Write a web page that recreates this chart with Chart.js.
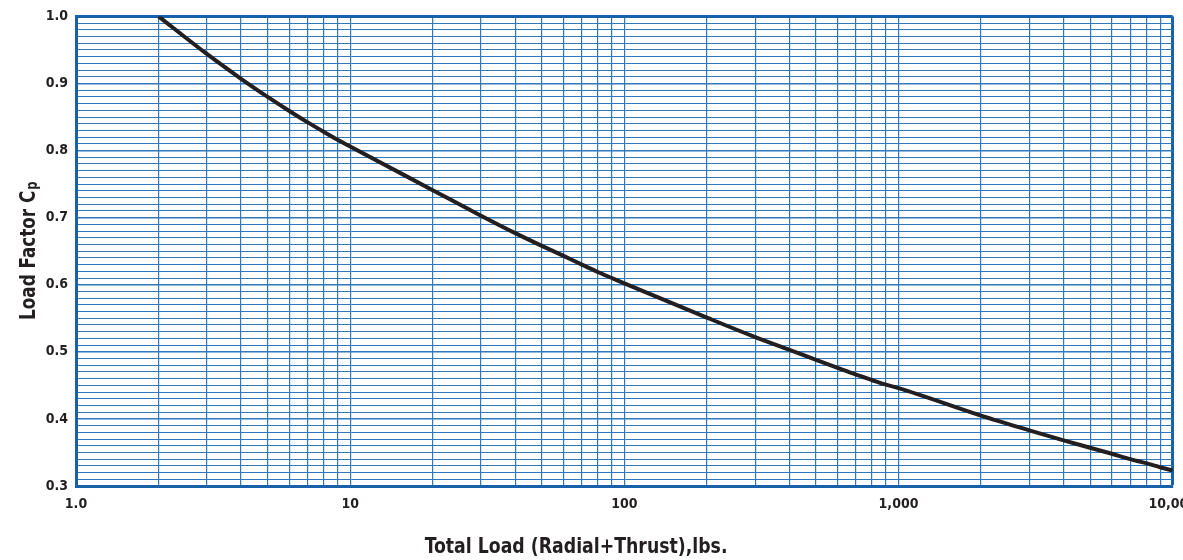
<!DOCTYPE html>
<html>
<head>
<meta charset="utf-8">
<title>Load Factor Cp</title>
<script src="https://cdn.jsdelivr.net/npm/chart.js@4.4.1/dist/chart.umd.min.js"></script>
<style>
  html, body { margin: 0; padding: 0; background: #fff; overflow: hidden; }
  #wrap { width: 1183px; height: 560px; overflow: hidden; }
</style>
</head>
<body>
<div id="wrap"><canvas id="cp-canvas" width="1207" height="560"></canvas></div>
<script>
// Carga total (lbs) y factor de carga Cp
const totalLoad = [2, 3, 4, 5, 6, 7, 8, 9, 10,
    20, 30, 40, 50, 60, 70, 80, 90, 100,
    200, 300, 400, 500, 600, 700, 800, 900, 1000,
    2000, 3000, 4000, 5000, 6000, 7000, 8000, 9000, 10000];
const loadFactor = [1.000, 0.944, 0.907, 0.880, 0.859, 0.842, 0.828, 0.816, 0.806,
    0.741, 0.703, 0.677, 0.658, 0.643, 0.630, 0.619, 0.610, 0.602,
    0.551, 0.522, 0.503, 0.488, 0.476, 0.466, 0.458, 0.451, 0.446,
    0.405, 0.383, 0.368, 0.357, 0.348, 0.340, 0.334, 0.328, 0.323];

// Etiquetas de los ejes
const xLabelValues = [1, 10, 100, 1000, 10000];
const xLabelText = ['1.0', '10', '100', '1,000', '10,000'];
const yLabelValues = [0.3, 0.4, 0.5, 0.6, 0.7, 0.8, 0.9, 1.0];
const yLabelText = ['0.3', '0.4', '0.5', '0.6', '0.7', '0.8', '0.9', '1.0'];

// Líneas de la cuadrícula: 1..9 en cada década y centésimas en el eje Y
const decades = [1, 10, 100, 1000];
const xGridValues = [];
decades.forEach(d => { for (let k = 1; k <= 9; k++) xGridValues.push(k * d); });
xGridValues.push(10000);
const yGridValues = [];
for (let k = 30; k <= 100; k++) yGridValues.push(k / 100);

const xTitle = 'Total Load (Radial+Thrust),lbs.';
const yTitle = 'Load Factor C';
const yTitleSub = 'p';

const fontFamily = "'DejaVu Sans Condensed', 'Liberation Sans Narrow', sans-serif";
const textColor = '#231f20';
const gridColor = '#2f78bb';
const frameColor = '#1661a9';

// Títulos de los ejes (el del eje Y lleva subíndice), un poco estrechados
const axisTitles = {
    id: 'axisTitles',
    afterDraw(chart) {
        const ctx = chart.ctx;
        const area = chart.chartArea;
        ctx.save();
        ctx.fillStyle = textColor;
        ctx.font = 'bold 22px ' + fontFamily;
        ctx.textAlign = 'center';
        ctx.textBaseline = 'middle';
        ctx.save();
        ctx.translate(area.left + (area.right - area.left) * 0.456, 547);
        ctx.scale(0.875, 1);
        ctx.fillText(xTitle, 0, 0);
        ctx.restore();

        ctx.translate(35, (area.top + area.bottom) / 2);
        ctx.rotate(-Math.PI / 2);
        ctx.scale(0.85, 1);
        ctx.textAlign = 'left';
        ctx.textBaseline = 'alphabetic';
        const w1 = ctx.measureText(yTitle).width;
        ctx.font = 'bold 15px ' + fontFamily;
        const w2 = ctx.measureText(yTitleSub).width;
        const start = -(w1 + w2) / 2;
        ctx.fillText(yTitleSub, start + w1 + 1, 2);
        ctx.font = 'bold 22px ' + fontFamily;
        ctx.fillText(yTitle, start, 0);
        ctx.restore();
    }
};

function isNear(a, b) {
    return Math.abs(a - b) < 1e-6;
}

function createLoadFactorChart() {
    const ctx = document.getElementById('cp-canvas').getContext('2d');
    const points = totalLoad.map((x, i) => ({ x: x, y: loadFactor[i] }));

    new Chart(ctx, {
        type: 'line',
        data: {
            datasets: [{
                data: points,
                borderColor: textColor,
                borderWidth: 4,
                pointRadius: 0,
                fill: false,
                cubicInterpolationMode: 'monotone'
            }]
        },
        options: {
            responsive: false,
            animation: false,
            devicePixelRatio: 1,
            layout: { padding: { top: 14, right: 0, left: 0, bottom: 0 } },
            plugins: {
                legend: { display: false },
                tooltip: { enabled: false }
            },
            scales: {
                x: {
                    type: 'logarithmic',
                    min: 1,
                    max: 10000,
                    afterBuildTicks: scale => { scale.ticks = xGridValues.map(v => ({ value: v })); },
                    afterFit: scale => { scale.height = 74; },
                    border: { display: true, color: frameColor, width: 3 },
                    grid: {
                        drawTicks: false,
                        color: ctx => (ctx.tick && isNear(ctx.tick.value, 10000)) ? frameColor : gridColor,
                        lineWidth: ctx => (ctx.tick && isNear(ctx.tick.value, 10000)) ? 3 : 1.2
                    },
                    ticks: {
                        autoSkip: false,
                        maxRotation: 0,
                        padding: 10,
                        color: textColor,
                        font: { family: fontFamily, size: 14, weight: 'bold' },
                        callback: function (value) {
                            const i = xLabelValues.findIndex(v => isNear(v, value));
                            return i >= 0 ? xLabelText[i] : '';
                        }
                    }
                },
                y: {
                    min: 0.3,
                    max: 1.0,
                    afterBuildTicks: scale => { scale.ticks = yGridValues.map(v => ({ value: v })); },
                    afterFit: scale => { scale.width = 76; },
                    border: { display: true, color: frameColor, width: 3 },
                    grid: {
                        drawTicks: false,
                        color: ctx => (ctx.tick && isNear(ctx.tick.value, 1.0)) ? frameColor : gridColor,
                        lineWidth: ctx => {
                            if (!ctx.tick) return 1;
                            if (isNear(ctx.tick.value, 1.0)) return 3;
                            return yLabelValues.some(v => isNear(v, ctx.tick.value)) ? 1.6 : 1;
                        }
                    },
                    ticks: {
                        autoSkip: false,
                        padding: 8,
                        color: textColor,
                        font: { family: fontFamily, size: 14, weight: 'bold' },
                        callback: function (value) {
                            const i = yLabelValues.findIndex(v => isNear(v, value));
                            return i >= 0 ? yLabelText[i] : '';
                        }
                    }
                }
            }
        },
        plugins: [axisTitles]
    });
}

createLoadFactorChart();
</script>
</body>
</html>
